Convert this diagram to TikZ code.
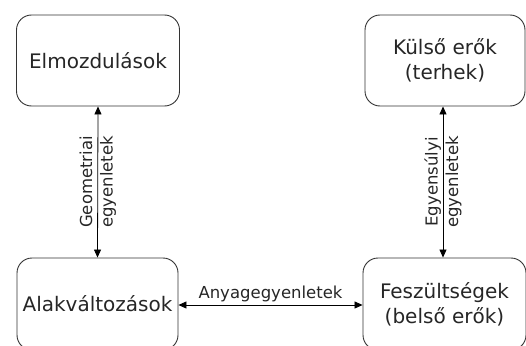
\documentclass[tikz,border=0pt]{standalone}
\usepackage{fontspec}
\setmainfont{DejaVu Sans}
\usetikzlibrary{arrows.meta}
\begin{document}
\begin{tikzpicture}[x=1pt,y=-1pt,
  box/.style={draw=black!80, line width=0.9pt, rounded corners=15pt,
    align=center, font=\fontsize{20}{25}\selectfont, text=black!85,
    inner sep=0pt},
  link/.style={line width=0.8pt, {Triangle[length=8pt,width=7pt]}-{Triangle[length=8pt,width=7pt]}},
  lbl/.style={font=\fontsize{16.5}{20.5}\selectfont, text=black!85, align=center}]
  \clip (0,0) rectangle (526,345);
  \node[box, minimum width=163pt, minimum height=91pt] (elm) at (98,60.5) {Elmozdulások};
  \node[box, minimum width=160pt, minimum height=91pt] (kul) at (445,60.5) {Külső erők\\(terhek)};
  \node[box, minimum width=161pt, minimum height=92pt] (alak) at (97.5,304) {Alakváltozások};
  \node[box, minimum width=163pt, minimum height=92pt] (fesz) at (444.5,304) {Feszültségek\\(belső erők)};
  \draw[link] (elm.south) -- node[lbl, rotate=90] {Geometriai\\egyenletek} (alak.north);
  \draw[link] ([xshift=-2pt]kul.south) -- node[lbl, rotate=90] {Egyensúlyi\\egyenletek} ([xshift=-1.5pt]fesz.north);
  \draw[link] ([yshift=-1pt]alak.east) -- node[lbl, above=-1pt] {Anyagegyenletek} ([yshift=-1pt]fesz.west);
\end{tikzpicture}
\end{document}
